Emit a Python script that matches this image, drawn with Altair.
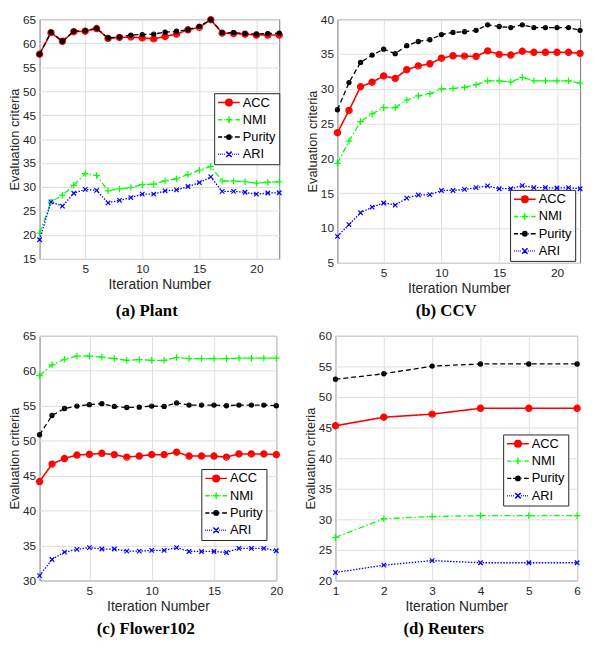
import altair as alt
import pandas as pd

SERIES = ["ACC", "NMI", "Purity", "ARI"]
COLORS = ["#ff0000", "#00ff00", "#000000", "#0000ff"]

# ---- data ----
plant_x = list(range(1, 23))
plant_acc = [57.7, 62.2, 60.4, 62.4, 62.5, 63.05, 61.0, 61.2, 61.3, 61.1, 60.9,
             61.4, 61.9, 62.8, 63.3, 64.9, 62.1, 62.0, 61.9, 61.7, 61.7, 61.7]
plant_nmi = [20.4, 26.9, 28.3, 30.35, 32.8, 32.4, 29.2, 29.6, 29.9, 30.5, 30.6,
             31.3, 31.7, 32.6, 33.5, 34.3, 31.25, 31.25, 31.1, 30.8, 31.0, 31.1]
plant_pur = [57.7, 62.3, 60.4, 62.5, 62.6, 63.1, 61.1, 61.3, 61.7, 61.8, 61.9,
             62.3, 62.5, 62.8, 63.5, 64.9, 62.2, 62.2, 62.0, 61.9, 62.0, 62.1]
plant_ari = [19.0, 26.9, 26.0, 28.7, 29.5, 29.3, 26.7, 27.2, 27.8, 28.5, 28.5,
             29.2, 29.4, 30.1, 30.9, 32.1, 29.1, 29.1, 28.9, 28.5, 28.75, 28.8]

ccv_x = list(range(1, 23))
ccv_acc = [23.7, 26.9, 30.3, 30.95, 31.85, 31.5, 32.75, 33.3, 33.6, 34.4, 34.75,
           34.7, 34.65, 35.45, 34.95, 34.85, 35.4, 35.25, 35.25, 35.25, 35.25, 35.1]
ccv_nmi = [19.3, 22.5, 25.3, 26.4, 27.3, 27.3, 28.4, 29.0, 29.3, 30.0, 30.05,
           30.2, 30.6, 31.15, 31.15, 31.0, 31.65, 31.15, 31.15, 31.15, 31.15, 30.8]
ccv_pur = [27.0, 30.9, 33.8, 34.85, 35.7, 35.05, 36.2, 36.8, 37.05, 37.8, 38.1,
           38.2, 38.4, 39.2, 38.95, 38.8, 39.2, 38.8, 38.8, 38.8, 38.8, 38.4]
ccv_ari = [8.8, 10.5, 12.2, 13.0, 13.6, 13.3, 14.3, 14.75, 14.8, 15.4, 15.4,
           15.55, 15.8, 16.05, 15.65, 15.65, 16.1, 15.8, 15.8, 15.75, 15.8, 15.65]

flower_x = list(range(1, 21))
flower_acc = [44.15, 46.65, 47.45, 47.95, 48.05, 48.2, 48.0, 47.65, 47.8, 48.0,
              48.0, 48.35, 47.8, 47.8, 47.8, 47.65, 48.1, 48.1, 48.1, 48.0]
flower_nmi = [59.3, 60.85, 61.65, 62.1, 62.1, 61.95, 61.75, 61.5, 61.6, 61.5,
              61.5, 61.9, 61.75, 61.75, 61.75, 61.75, 61.8, 61.8, 61.8, 61.8]
flower_pur = [50.85, 53.6, 54.6, 54.95, 55.15, 55.3, 54.9, 54.75, 54.8, 54.95,
              54.9, 55.4, 55.1, 55.1, 55.1, 55.0, 55.1, 55.1, 55.1, 55.0]
flower_ari = [30.7, 33.0, 34.05, 34.45, 34.7, 34.5, 34.5, 34.2, 34.2, 34.3,
              34.3, 34.7, 34.15, 34.15, 34.15, 34.0, 34.6, 34.6, 34.6, 34.25]

reuters_x = [1, 2, 3, 4, 5, 6]
reuters_acc = [45.3, 46.7, 47.2, 48.15, 48.15, 48.15]
reuters_nmi = [27.05, 30.1, 30.45, 30.6, 30.6, 30.6]
reuters_pur = [52.9, 53.8, 55.05, 55.4, 55.4, 55.4]
reuters_ari = [21.3, 22.5, 23.25, 22.9, 22.9, 22.9]

# ---- styles ----
LINE_W = [1.6, 1.3, 1.3, 1.3]
DASHES = [[1, 0], [6, 2.5, 1.5, 2.5], [5, 3], [1.5, 1.5]]


def circ(r, cx=0.0):
    return (f"M{cx + r:.3f},0A{r:.3f},{r:.3f},0,1,1,{cx - r:.3f},0"
            f"A{r:.3f},{r:.3f},0,1,1,{cx + r:.3f},0Z")


# plot markers (stroked paths; concentric rings make filled dots)
MARKERS = [
    circ(0.9) + circ(0.55) + circ(0.2),
    "M-0.95,0H0.95M0,-0.95V0.95",
    circ(0.6) + circ(0.25),
    "M-0.65,-0.65L0.65,0.65M-0.65,0.65L0.65,-0.65",
]


def dotted(x0, x1, step=0.18, seg=0.07):
    out = ""
    x = x0
    while x + seg <= x1 + 1e-9:
        out += f"M{x:.3f},0H{x + seg:.3f}"
        x += step
    return out


# legend symbols: line sample + marker, in the unit square
LEGEND_SYMBOLS = [
    "M-1,0H1" + circ(0.3) + circ(0.18) + circ(0.06),
    "M-1,0H-0.6M-0.46,0H-0.39M-0.3,0H0.3M0,-0.3V0.3M0.39,0H0.46M0.6,0H1",
    "M-1,0H-0.62M-0.45,0H-0.22" + circ(0.2) + circ(0.07) + "M0.3,0H0.36M0.55,0H1",
    dotted(-1, -0.3) + "M-0.25,-0.25L0.25,0.25M-0.25,0.25L0.25,-0.25" + dotted(0.3, 1),
]

TXT = "#262626"
GRID = "#dedede"


def panel(caption, xs, vals, xdom, ydom, xticks, w, h, leg_x, leg_y, cap_offset=8):
    rows = []
    for s, v in zip(SERIES, vals):
        for xi, yi in zip(xs, v):
            rows.append({"Iter": xi, "Value": yi, "Series": s})
    df = pd.DataFrame(rows)

    yaxis = alt.Axis(
        values=list(range(ydom[0], ydom[1] + 1, 5)), title="Evaluation criteria",
        grid=True, gridColor=GRID, domain=False, ticks=False, labelFlush=False,
        labelPadding=4, labelFontSize=12, labelColor=TXT, labelFont="Liberation Sans",
        titleFont="Liberation Sans", titleFontSize=13, titleFontWeight="normal",
        titleColor=TXT, titlePadding=1)
    xaxis = alt.Axis(
        values=xticks, title="Iteration Number", grid=True, gridColor=GRID,
        domain=False, ticks=False, labelFlush=False, labelPadding=5,
        labelFontSize=12, labelColor=TXT, labelFont="Liberation Sans",
        titleFont="Liberation Sans", titleFontSize=14, titleFontWeight="normal",
        titleColor=TXT, titlePadding=3)
    xenc = alt.X("Iter:Q", scale=alt.Scale(domain=xdom, nice=False, zero=False), axis=xaxis)
    yenc = alt.Y("Value:Q", scale=alt.Scale(domain=list(ydom), nice=False, zero=False), axis=yaxis)

    layers = []
    for i, s in enumerate(SERIES):
        sub = alt.Chart(df).transform_filter(alt.datum.Series == s)
        layers.append(sub.mark_line(color=COLORS[i], strokeWidth=LINE_W[i],
                                    strokeDash=DASHES[i]).encode(x=xenc, y=yenc))
        layers.append(sub.mark_point(shape=MARKERS[i], size=49, filled=False,
                                     strokeWidth=1.2, color=COLORS[i], opacity=1)
                      .encode(x=xenc, y=yenc))

    legend = alt.Legend(
        orient="none", legendX=leg_x, legendY=leg_y, title=None,
        fillColor="white", strokeColor=TXT, padding=3,
        labelFont="Liberation Sans", labelFontSize=13, labelColor="black",
        symbolSize=484, symbolStrokeWidth=1.5, clipHeight=13, rowPadding=3.5,
        labelOffset=2)
    leg_layer = (alt.Chart(df).transform_filter("false")
                 .mark_point(filled=False, opacity=1, strokeWidth=1.5)
                 .encode(x=xenc, y=yenc,
                         color=alt.Color("Series:N", scale=alt.Scale(domain=SERIES, range=COLORS),
                                         legend=legend),
                         shape=alt.Shape("Series:N", scale=alt.Scale(domain=SERIES, range=LEGEND_SYMBOLS),
                                         legend=legend)))
    layers.append(leg_layer)

    return alt.layer(*layers).properties(
        width=w, height=h,
        title=alt.TitleParams(text=caption, orient="bottom", anchor="middle", frame="bounds",
                              font="Liberation Serif", fontSize=17, fontWeight="bold",
                              color="black", offset=cap_offset))


pa = panel("(a) Plant", plant_x, [plant_acc, plant_nmi, plant_pur, plant_ari],
           [1, 22], (15, 65), [5, 10, 15, 20], 243, 243, 177, 75, cap_offset=12)
pb = panel("(b) CCV", ccv_x, [ccv_acc, ccv_nmi, ccv_pur, ccv_ari],
           [1, 22], (5, 40), [5, 10, 15, 20], 246, 247, 175, 173)
pc = panel("(c) Flower102", flower_x, [flower_acc, flower_nmi, flower_pur, flower_ari],
           [1, 20], (30, 65), [5, 10, 15, 20], 240, 248, 164, 135)
pd_ = panel("(d) Reuters", reuters_x, [reuters_acc, reuters_nmi, reuters_pur, reuters_ari],
            [1, 6], (20, 60), [1, 2, 3, 4, 5, 6], 245, 248, 170, 100)

IND = dict(color="independent", shape="independent")
row1 = alt.hconcat(pa, pb, spacing=20).resolve_scale(**IND).resolve_legend(**IND)
row2 = alt.hconcat(pc, pd_, spacing=20).resolve_scale(**IND).resolve_legend(**IND)
chart = (alt.vconcat(row1, row2, spacing=9)
         .resolve_scale(**IND).resolve_legend(**IND)
         .properties(padding={"left": 0, "top": 0, "right": 0, "bottom": 0}, background="white")
         .configure_view(stroke="#777777", strokeWidth=1))

chart.save("out.html", embed_options={"renderer": "svg", "actions": False})
